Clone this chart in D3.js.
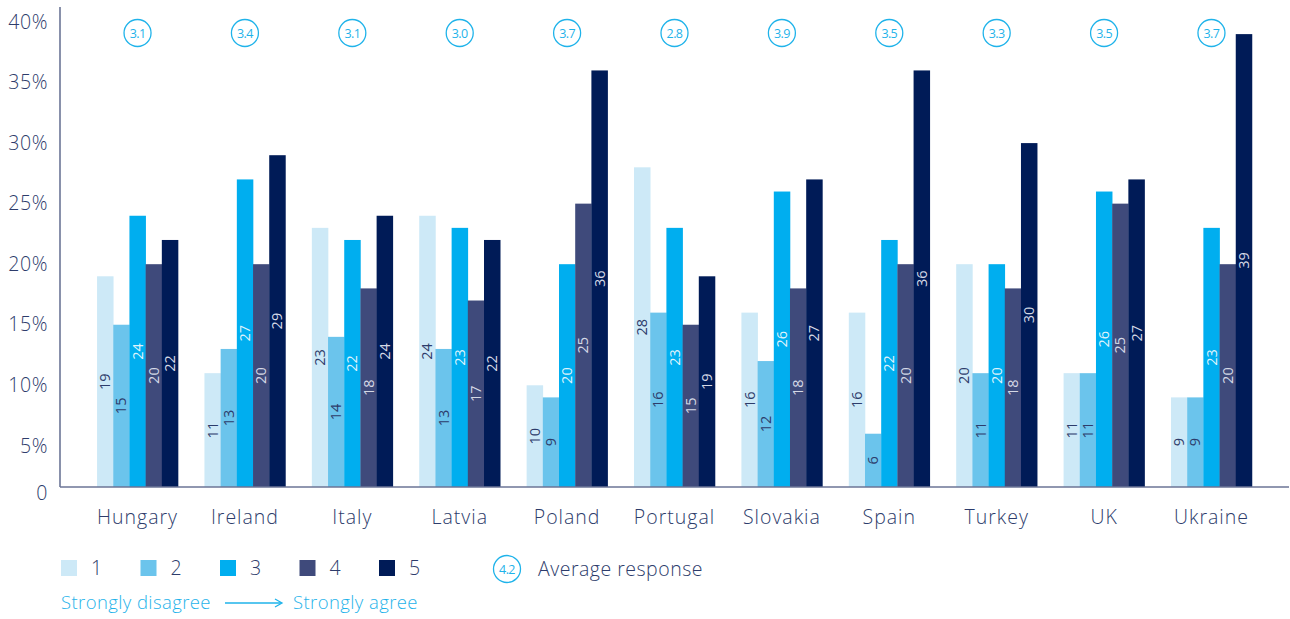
<!DOCTYPE html>
<html><head><meta charset="utf-8">
<script src="https://cdn.jsdelivr.net/npm/d3@7"></script>
<style>
html,body{margin:0;padding:0;background:#fff;}
svg{display:block;font-family:"Open Sans",sans-serif;font-weight:300;}
</style></head>
<body>
<svg id="chart" width="1290" height="619"></svg>
<script>
// ---- data ----
const countries = ["Hungary","Ireland","Italy","Latvia","Poland","Portugal","Slovakia","Spain","Turkey","UK","Ukraine"];
const seriesKeys = ["1","2","3","4","5"];
const s1 = [19,11,23,24,10,28,16,16,20,11,9];
const s2 = [15,13,14,13,9,16,12,6,11,11,9];
const s3 = [24,27,22,23,20,23,26,22,20,26,23];
const s4 = [20,20,18,17,25,15,18,20,18,25,20];
const s5 = [22,29,24,22,36,19,27,36,30,27,39];
const averages = [3.1,3.4,3.1,3.0,3.7,2.8,3.9,3.5,3.3,3.5,3.7];
const yTicks = [5,10,15,20,25,30,35,40];
const legendAvg = 4.2;

const series = [s1,s2,s3,s4,s5];
const colors = ["#cde9f7","#6bc4ec","#00aeef","#3f4a7b","#001b57"];
const labelColors = ["#2d3c6b","#2d3c6b","#dff3fc","#d5d9e6","#d5d9e6"];
const navy = "#2d3c6b";
const cyan = "#1fb3ea";

const svg = d3.select("#chart");
const baseVal = 1.6; // axis baseline value (bars start here)
const y = d3.scaleLinear().domain([baseVal,40]).range([487,22]);
const x0 = d3.scaleBand().domain(countries).range([60,1289]).paddingInner(0.246).paddingOuter(0.345);
const x1 = d3.scaleBand().domain(seriesKeys).range([0,x0.bandwidth()]);

// axes lines
svg.append("line").attr("x1",60).attr("x2",60).attr("y1",7).attr("y2",y(baseVal))
  .attr("stroke","#6b7596").attr("stroke-width",1.6);

// y tick labels
const yAxis = d3.axisLeft(y).tickValues([baseVal].concat(yTicks)).tickSize(0).tickPadding(12)
  .tickFormat(d => d===baseVal ? "0" : d+"%");
const ga = svg.append("g").attr("transform","translate(60,0)").call(yAxis);
ga.select(".domain").remove();
ga.selectAll("text").attr("font-family","Open Sans").attr("font-weight",300).attr("font-size",19.5)
  .attr("letter-spacing","0.6").attr("fill",navy)
  .attr("dy",(d)=> d===baseVal ? "0.62em" : "0.32em");

// bars
const groups = svg.append("g").selectAll("g").data(countries).join("g")
  .attr("transform",d=>`translate(${x0(d)},0)`);

const rows = (c,i) => seriesKeys.map((k,j)=>({k, j, v: series[j][i]}));
groups.each(function(c,i){
  const g = d3.select(this);
  const data = rows(c,i);
  g.selectAll("rect").data(data).join("rect")
    .attr("x",d=>x1(d.k)).attr("width",x1.bandwidth()+0.3)
    .attr("y",d=>y(d.v)).attr("height",d=>y(baseVal)-y(d.v))
    .attr("fill",d=>colors[d.j]);
  g.selectAll("text.v").data(data).join("text").attr("class","v")
    .attr("transform",d=>`translate(${x1(d.k)+x1.bandwidth()/2},${(y(d.v)+y(baseVal))/2}) rotate(-90)`)
    .attr("text-anchor","middle").attr("dy","0.35em")
    .attr("font-size",14.5).attr("font-weight",400).attr("fill",d=>labelColors[d.j])
    .text(d=>d.v);
  // average circle
  const cx = x0.bandwidth()/2;
  g.append("circle").attr("cx",cx).attr("cy",33).attr("r",13.5)
    .attr("fill","none").attr("stroke",cyan).attr("stroke-width",1.3);
  g.append("text").attr("x",cx).attr("y",33).attr("dy","0.36em").attr("text-anchor","middle")
    .attr("font-size",12.5).attr("font-weight",400).attr("letter-spacing","-0.6").attr("fill",cyan).text(averages[i].toFixed(1));
});

// baseline
svg.append("line").attr("x1",60).attr("x2",1289).attr("y1",y(baseVal)).attr("y2",y(baseVal))
  .attr("stroke","#6b7596").attr("stroke-width",1.6);

// x labels
svg.append("g").selectAll("text").data(countries).join("text")
  .attr("x",d=>x0(d)+x0.bandwidth()/2).attr("y",517).attr("dy","0.35em")
  .attr("text-anchor","middle").attr("font-size",19.5).attr("letter-spacing","1").attr("fill",navy).text(d=>d);

// legend
const lg = svg.append("g");
seriesKeys.forEach((k,j)=>{
  const lx = 61 + j*79.5;
  lg.append("rect").attr("x",lx).attr("y",560).attr("width",16).attr("height",16).attr("fill",colors[j]);
  lg.append("text").attr("x",lx+30).attr("y",568).attr("dy","0.35em").attr("font-size",19.5).attr("fill",navy).text(k);
});
lg.append("circle").attr("cx",507).attr("cy",569).attr("r",13.5).attr("fill","none").attr("stroke",cyan).attr("stroke-width",1.3);
lg.append("text").attr("x",507).attr("y",569).attr("dy","0.36em").attr("text-anchor","middle")
  .attr("font-size",12.5).attr("font-weight",400).attr("letter-spacing","-0.6").attr("fill",cyan).text(legendAvg.toFixed(1));
lg.append("text").attr("x",538).attr("y",569).attr("dy","0.35em").attr("font-size",19.5).attr("letter-spacing","0.5").attr("fill",navy).text("Average response");
lg.append("text").attr("x",61).attr("y",603).attr("dy","0.35em").attr("font-size",18.5).attr("letter-spacing","0.4").attr("fill",cyan).text("Strongly disagree");
lg.append("line").attr("x1",225).attr("x2",281).attr("y1",603).attr("y2",603).attr("stroke",cyan).attr("stroke-width",1.3);
lg.append("path").attr("d","M275,599 L282,603 L275,607").attr("fill","none").attr("stroke",cyan).attr("stroke-width",1.3);
lg.append("text").attr("x",293).attr("y",603).attr("dy","0.35em").attr("font-size",18.5).attr("letter-spacing","0.4").attr("fill",cyan).text("Strongly agree");
</script>
</body></html>
